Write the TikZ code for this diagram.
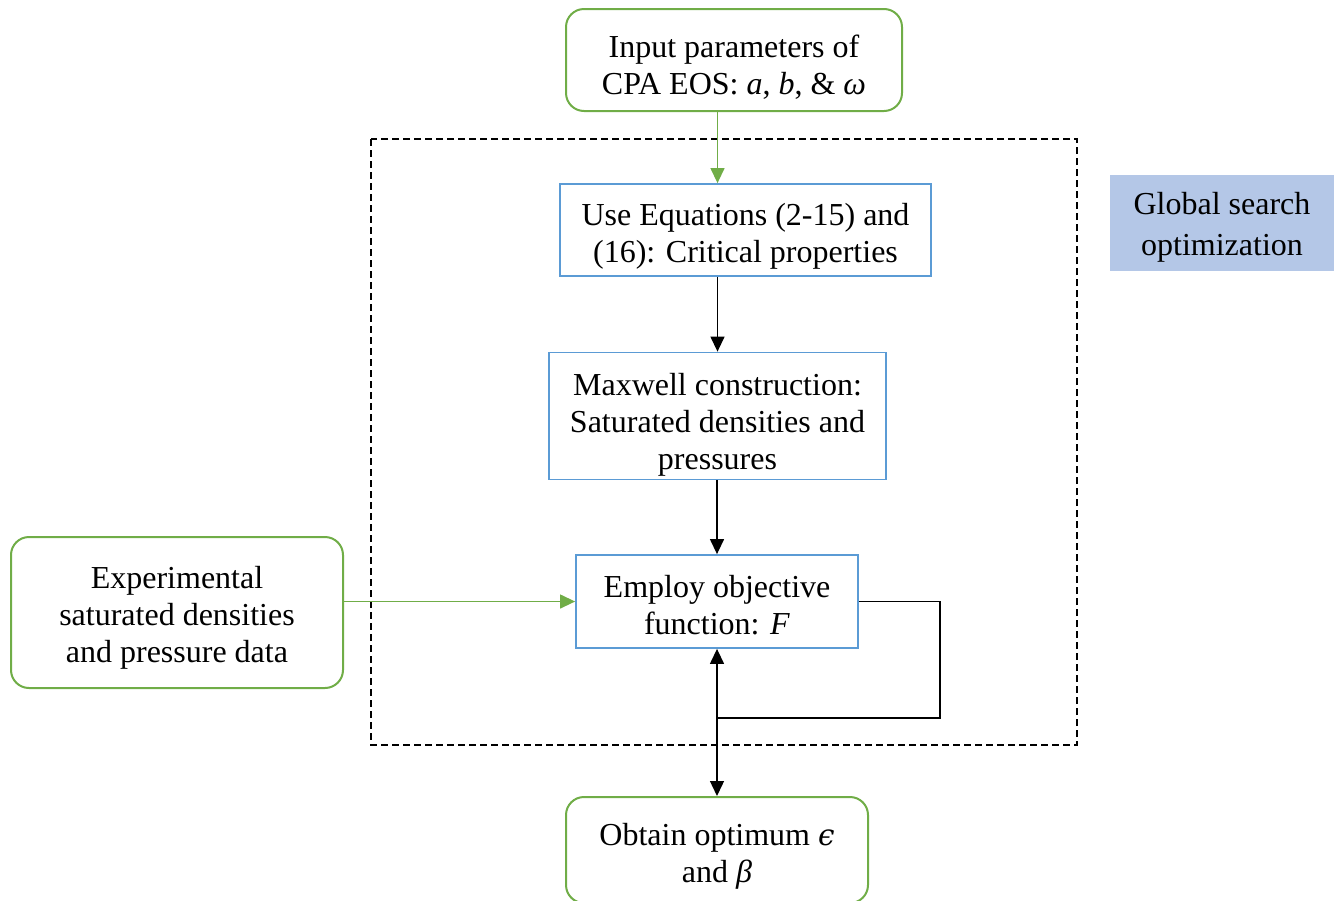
\documentclass[tikz,border=0pt]{standalone}
\usepackage{fontspec}
\setmainfont{Liberation Serif}
\newfontfamily\grkfont[Scale=0.92]{DejaVu Serif}
\usetikzlibrary{arrows.meta,calc}
\definecolor{grnline}{HTML}{70AD47}
\definecolor{bluline}{HTML}{5B9BD5}
\definecolor{gsofill}{HTML}{B4C7E7}
\newcommand{\lift}[1][37pt]{\rule{0pt}{#1}}
\begin{document}
\begin{tikzpicture}[x=1pt,y=-1pt,
  font=\fontsize{32}{37}\selectfont, >={Triangle[length=15pt,width=14pt]},
  box/.style={draw,align=center,inner sep=2pt},
  blu/.style={box,draw=bluline,line width=1.8pt},
  grn/.style={box,draw=grnline,line width=2pt,rounded corners=18pt},
  flow/.style={->,line width=1.3pt},
  gflow/.style={flow,draw=grnline},
]
\useasboundingbox (0,0) rectangle (1340,900);
% search region
\draw[line width=2pt,dash pattern=on 7pt off 4pt] (371,139) rectangle (1077,745);
\node[fill=gsofill,minimum width=224,minimum height=96,align=center] (gso) at (1222,223) {\lift[31pt]Global search\\[4pt]optimization};
% main column
\node[grn,minimum width=336,minimum height=102] (inp) at (734,60) {\lift Input parameters of\\CPA EOS: \textit{a}, \textit{b}, \& \textit{ω}};
\node[blu,minimum width=371,minimum height=92] (eqs) at (745.5,230) {\lift[35pt]Use Equations (2-15) and\\(16): Critical properties};
\node[blu,minimum width=337,minimum height=127] (maxw) at (717.5,416) {\lift[40pt]Maxwell construction:\\Saturated densities and\\pressures};
\node[blu,minimum width=282,minimum height=93] (obj) at (717,601.5) {\lift[29pt]Employ objective\\function: \textit{F}};
\node[grn,minimum width=332,minimum height=151] (expd) at (177,612.5) {\lift[33pt]Experimental\\saturated densities\\and pressure data};
\node[grn,minimum width=302,minimum height=106] (optm) at (717,850) {\lift[35pt]Obtain optimum {\grkfont\itshape ϵ}\\and \textit{β}};
\coordinate (lp) at (717,718);
% connectors
\draw[gflow] (inp.south -| maxw) -- (eqs.north -| maxw);
\draw[flow] (eqs.south -| maxw) -- (maxw.north);
\draw[flow] (maxw.south -| obj) -- (obj.north);
\draw[gflow] (expd.east |- obj.west) -- (obj.west);
\draw[line width=1.2pt] (obj.east) -- ++(81,0) |- (lp);
\draw[flow,<->] (obj.south) -- (optm.north);
\end{tikzpicture}
\end{document}
